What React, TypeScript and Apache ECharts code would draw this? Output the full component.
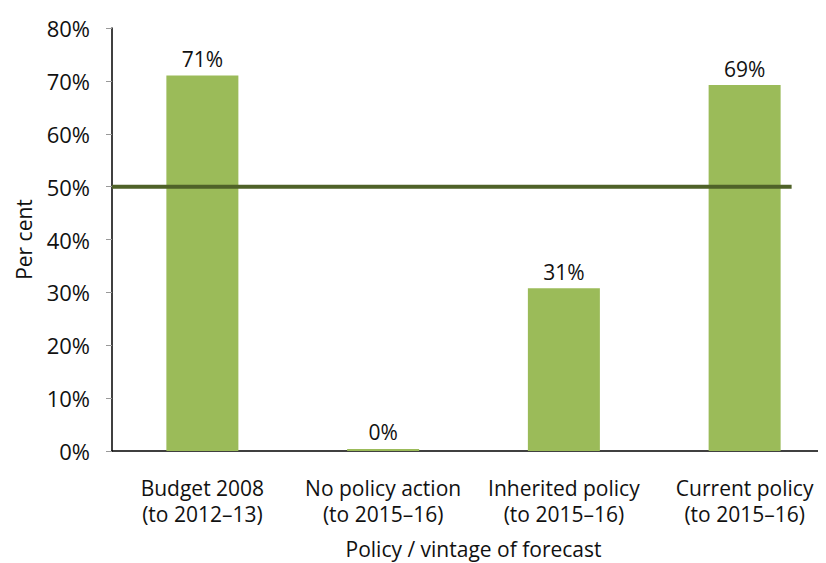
import React, { useEffect, useRef } from "react";
import * as echarts from "echarts";

const categories = [
  "Budget 2008\n(to 2012–13)",
  "No policy action\n(to 2015–16)",
  "Inherited policy\n(to 2015–16)",
  "Current policy\n(to 2015–16)",
];
const values = [71, 0.4, 30.8, 69.2];
const labelValues = ["71%", "0%", "31%", "69%"];
const thresholdValue = 50;
const thresholdExtent = [0, 3.76];

export default function App() {
  const ref = useRef<HTMLDivElement>(null);
  useEffect(() => {
    const chart = echarts.init(ref.current!, null, { renderer: "svg" });
    const font = "'Open Sans', 'Noto Sans', sans-serif";
    chart.setOption({
      animation: false,
      textStyle: { fontFamily: font },
      grid: { left: 104, top: 20, width: 723, height: 423, outerBoundsMode: "none", containLabel: false },
      xAxis: [
        {
          type: "category",
          data: categories,
          axisLine: { lineStyle: { color: "#000", width: 1.5 } },
          axisTick: { alignWithLabel: true, length: 6, lineStyle: { color: "#999" } },
          axisLabel: { interval: 0, color: "#111", fontSize: 21, lineHeight: 26, margin: 24, fontFamily: font },
          name: "Policy / vintage of forecast",
          nameLocation: "middle",
          nameGap: 87,
          nameTextStyle: { color: "#111", fontSize: 21, fontFamily: font },
        },
        {
          type: "value",
          min: 0,
          max: 4,
          show: false,
        },
      ],
      yAxis: {
        type: "value",
        min: 0,
        max: 80,
        interval: 10,
        splitLine: { show: false },
        axisLine: { show: true, lineStyle: { color: "#000", width: 1.5 } },
        axisTick: { show: true, length: 6, lineStyle: { color: "#999" } },
        axisLabel: { formatter: "{value}%", color: "#111", fontSize: 22, margin: 22, fontFamily: font },
        name: "Per cent",
        nameLocation: "middle",
        nameGap: 78,
        nameTextStyle: { color: "#111", fontSize: 21, fontFamily: font },
      },
      series: [
        {
          type: "bar",
          data: values,
          barWidth: 72,
          itemStyle: { color: "#9BBB59" },
          label: {
            show: true,
            position: "top",
            distance: 6,
            color: "#111",
            fontSize: 21,
            fontFamily: font,
            formatter: (p: any) => labelValues[p.dataIndex],
          },
        },
        {
          type: "line",
          xAxisIndex: 1,
          data: thresholdExtent.map((x) => [x, thresholdValue]),
          symbol: "none",
          lineStyle: { color: "#4F6228", width: 4 },
          z: 5,
        },
      ],
    });
    return () => chart.dispose();
  }, []);
  return <div ref={ref} style={{ width: 818, height: 555 }} />;
}
